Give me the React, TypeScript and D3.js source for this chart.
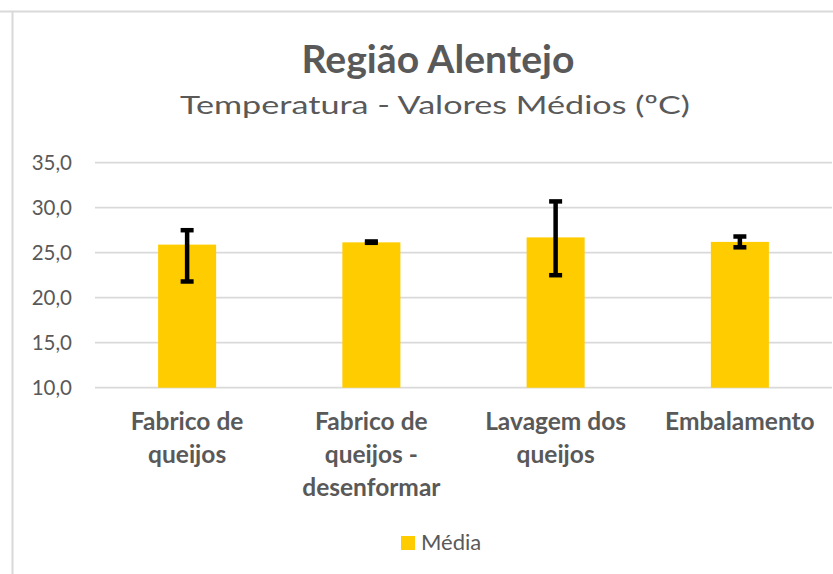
import React from "react";
import * as d3 from "d3";

const categories: string[][] = [
  ["Fabrico de", "queijos"],
  ["Fabrico de", "queijos -", "desenformar"],
  ["Lavagem dos", "queijos"],
  ["Embalamento"],
];
const means = [25.9, 26.15, 26.7, 26.2];
const errLow = [21.8, 26.1, 22.5, 25.6];
const errHigh = [27.5, 26.25, 30.7, 26.8];
const yTicks = [10, 15, 20, 25, 30, 35];
const seriesName = "Média";
const title = "Região Alentejo";
const subtitle = "Temperatura - Valores Médios (ºC)";

const W = 833;
const H = 574;
const FONT = "Lato, 'Open Sans', sans-serif";
const TEXT = "#595959";
const GRID = "#d9d9d9";
const BAR = "#ffcc00";

export default function App() {
  const ids = categories.map((_, i) => String(i));
  const x = d3.scaleBand<string>().domain(ids).range([95, 832]).paddingInner(0.685).paddingOuter(0.3425);
  const y = d3.scaleLinear().domain([10, 35]).range([387.7, 162.7]);
  const fmt = (v: number) => v.toFixed(1).replace(".", ",");
  const capW = 13;

  return (
    <svg
      width={W}
      height={H}
      style={{ position: "absolute", left: 0, top: 0, background: "#fff" }}
      fontFamily={FONT}
    >
      <rect x={0} y={0} width={W} height={H} fill="#fff" />
      <line x1={0} x2={W} y1={11.5} y2={11.5} stroke={GRID} strokeWidth={2} />
      <line x1={12.5} x2={12.5} y1={11} y2={H} stroke={GRID} strokeWidth={2} />

      <text x={438} y={73} textAnchor="middle" fontSize={37.5} fontWeight="bold" fill={TEXT}
        textLength={273} lengthAdjust="spacingAndGlyphs">
        {title}
      </text>
      <text x={435} y={113.5} textAnchor="middle" fontSize={25.5} fill={TEXT}
        textLength={510} lengthAdjust="spacingAndGlyphs">
        {subtitle}
      </text>

      {yTicks.map((t) => (
        <g key={t}>
          <line x1={95} x2={832} y1={y(t)} y2={y(t)} stroke={GRID} strokeWidth={1.7} />
          <text x={72} y={y(t) + 7} textAnchor="end" fontSize={20.5} fill={TEXT}>
            {fmt(t)}
          </text>
        </g>
      ))}

      {means.map((m, i) => {
        const bx = x(ids[i])!;
        const cx = bx + x.bandwidth() / 2;
        return (
          <g key={i}>
            <rect x={bx} y={y(m)} width={x.bandwidth()} height={y(10) - y(m)} fill={BAR} />
            <line x1={cx} x2={cx} y1={y(errLow[i])} y2={y(errHigh[i])} stroke="#000" strokeWidth={4.5} />
            <line x1={cx - capW / 2} x2={cx + capW / 2} y1={y(errLow[i])} y2={y(errLow[i])} stroke="#000" strokeWidth={4.5} />
            <line x1={cx - capW / 2} x2={cx + capW / 2} y1={y(errHigh[i])} y2={y(errHigh[i])} stroke="#000" strokeWidth={4.5} />
            {categories[i].map((ln, k) => (
              <text key={k} x={cx} y={430 + k * 33} textAnchor="middle" fontSize={24.5} fontWeight="bold" fill={TEXT}>
                {ln}
              </text>
            ))}
          </g>
        );
      })}

      <rect x={401} y={536} width={14} height={14} fill={BAR} />
      <text x={421} y={550} fontSize={22} fill={TEXT}>
        {seriesName}
      </text>
    </svg>
  );
}
